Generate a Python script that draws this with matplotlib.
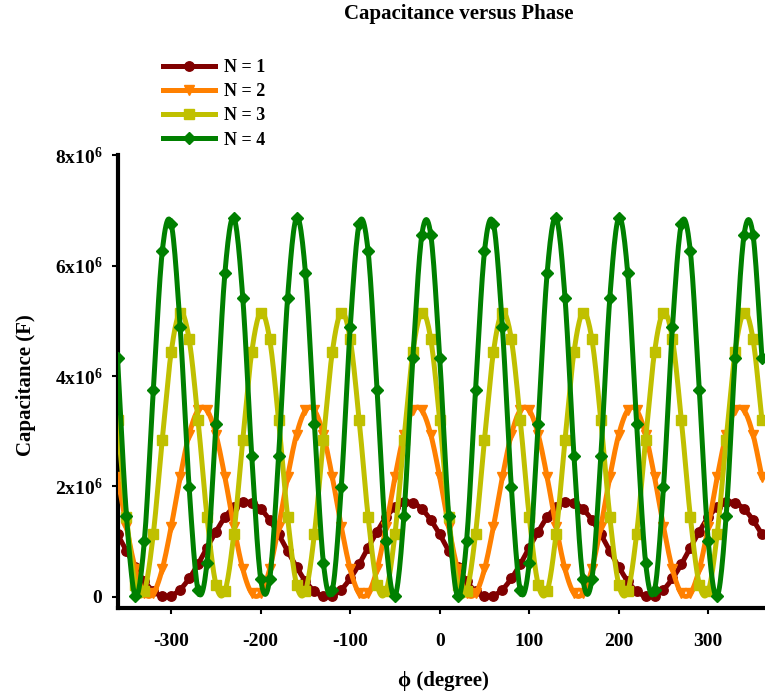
import numpy as np
import matplotlib
matplotlib.use("Agg")
import matplotlib.pyplot as plt
from matplotlib.lines import Line2D

# Fase (graus) e capacitancia (em unidades de 1e6 F)
fase = np.arange(-360, 361, 10)

cap_n1 = [
    1.13, 0.83, 0.54, 0.28, 0.10, 0.01, 0.02, 0.13, 0.33, 0.59, 0.89, 1.18, 1.44, 1.62, 1.71, 1.70, 1.59, 1.39,
    1.13, 0.83, 0.54, 0.28, 0.10, 0.01, 0.02, 0.13, 0.33, 0.59, 0.89, 1.18, 1.44, 1.62, 1.71, 1.70, 1.59, 1.39,
    1.13, 0.83, 0.54, 0.28, 0.10, 0.01, 0.02, 0.13, 0.33, 0.59, 0.89, 1.18, 1.44, 1.62, 1.71, 1.70, 1.59, 1.39,
    1.13, 0.83, 0.54, 0.28, 0.10, 0.01, 0.02, 0.13, 0.33, 0.59, 0.89, 1.18, 1.44, 1.62, 1.71, 1.70, 1.59, 1.39,
    1.13,
]

cap_n2 = [
    2.17, 1.27, 0.50, 0.06, 0.06, 0.50, 1.27, 2.17, 2.94, 3.38, 3.38, 2.94,
    2.17, 1.27, 0.50, 0.06, 0.06, 0.50, 1.27, 2.17, 2.94, 3.38, 3.38, 2.94,
    2.17, 1.27, 0.50, 0.06, 0.06, 0.50, 1.27, 2.17, 2.94, 3.38, 3.38, 2.94,
    2.17, 1.27, 0.50, 0.06, 0.06, 0.50, 1.27, 2.17, 2.94, 3.38, 3.38, 2.94,
    2.17, 1.27, 0.50, 0.06, 0.06, 0.50, 1.27, 2.17, 2.94, 3.38, 3.38, 2.94,
    2.17, 1.27, 0.50, 0.06, 0.06, 0.50, 1.27, 2.17, 2.94, 3.38, 3.38, 2.94,
    2.17,
]

cap_n3 = [
    3.20, 1.45, 0.22, 0.10, 1.14, 2.85, 4.44, 5.15, 4.67,
    3.20, 1.45, 0.22, 0.10, 1.14, 2.85, 4.44, 5.15, 4.67,
    3.20, 1.45, 0.22, 0.10, 1.14, 2.85, 4.44, 5.15, 4.67,
    3.20, 1.45, 0.22, 0.10, 1.14, 2.85, 4.44, 5.15, 4.67,
    3.20, 1.45, 0.22, 0.10, 1.14, 2.85, 4.44, 5.15, 4.67,
    3.20, 1.45, 0.22, 0.10, 1.14, 2.85, 4.44, 5.15, 4.67,
    3.20, 1.45, 0.22, 0.10, 1.14, 2.85, 4.44, 5.15, 4.67,
    3.20, 1.45, 0.22, 0.10, 1.14, 2.85, 4.44, 5.15, 4.67,
    3.20,
]

cap_n4 = [
    4.33, 1.47, 0.01, 1.01, 3.74, 6.26, 6.76, 4.89, 1.99, 0.12, 0.62, 3.14,
    5.87, 6.87, 5.41, 2.55, 0.32, 0.32, 2.55, 5.41, 6.87, 5.87, 3.14, 0.62,
    0.12, 1.99, 4.89, 6.76, 6.26, 3.74, 1.01, 0.01, 1.47, 4.33, 6.56, 6.56,
    4.33, 1.47, 0.01, 1.01, 3.74, 6.26, 6.76, 4.89, 1.99, 0.12, 0.62, 3.14,
    5.87, 6.87, 5.41, 2.55, 0.32, 0.32, 2.55, 5.41, 6.87, 5.87, 3.14, 0.62,
    0.12, 1.99, 4.89, 6.76, 6.26, 3.74, 1.01, 0.01, 1.47, 4.33, 6.56, 6.56,
    4.33,
]

rotulos = ["N = 1", "N = 2", "N = 3", "N = 4"]
series = [cap_n1, cap_n2, cap_n3, cap_n4]

xticks = [-300, -200, -100, 0, 100, 200, 300]
yticks = [0, 2, 4, 6, 8]
ytick_labels = ["0", "2x10$^{6}$", "4x10$^{6}$", "6x10$^{6}$", "8x10$^{6}$"]

cores = ["#800000", "#ff8000", "#c0c000", "#008000"]
marcadores = ["o", "v", "s", "D"]
tamanhos = [6.8, 7.8, 6.8, 5.8]

plt.rcParams["font.family"] = ["Liberation Serif", "DejaVu Serif"]
plt.rcParams["font.weight"] = "bold"
plt.rcParams["mathtext.fontset"] = "custom"
plt.rcParams["mathtext.rm"] = "Liberation Serif:bold"
plt.rcParams["mathtext.it"] = "Liberation Serif:bold"
plt.rcParams["mathtext.bf"] = "Liberation Serif:bold"


def suavizar(x, y, passos=12):
    """Curva suave (Catmull-Rom) passando pelos pontos, como o Excel."""
    x = np.asarray(x, float)
    y = np.asarray(y, float)
    px = np.concatenate([[2 * x[0] - x[1]], x, [2 * x[-1] - x[-2]]])
    py = np.concatenate([[2 * y[0] - y[1]], y, [2 * y[-1] - y[-2]]])
    t = np.linspace(0, 1, passos, endpoint=False)
    xs, ys = [], []
    for i in range(len(x) - 1):
        for p, out in ((px, xs), (py, ys)):
            p0, p1, p2, p3 = p[i], p[i + 1], p[i + 2], p[i + 3]
            out.append(0.5 * (2 * p1 + (-p0 + p2) * t
                              + (2 * p0 - 5 * p1 + 4 * p2 - p3) * t ** 2
                              + (-p0 + 3 * p1 - 3 * p2 + p3) * t ** 3))
    xs.append([x[-1]])
    ys.append([y[-1]])
    return np.concatenate(xs), np.concatenate(ys)


W, H = 765, 693
fig = plt.figure(figsize=(W / 100, H / 100), dpi=100)
ax = fig.add_axes([117.5 / W, 1 - 608 / H, (W - 117.5) / W, (608 - 155.5) / H])

handles = []
for i, (vals, cor, m, ms) in enumerate(zip(series, cores, marcadores, tamanhos)):
    xs, ys = suavizar(fase, vals)
    ax.plot(xs, ys, color=cor, lw=3.6, solid_joinstyle="round", zorder=2 + i)
    ax.plot(fase, vals, ls="none", marker=m, ms=ms, color=cor, mec=cor, zorder=2 + i)
    handles.append(Line2D([], [], color=cor, lw=3.6, marker=m, ms=ms, mec=cor))

ax.set_xlim(-360, 363.4)
ax.set_ylim(-0.205, 8)
ax.set_xticks(xticks)
ax.set_xticklabels([str(v) for v in xticks])
ax.set_yticks(yticks)
ax.set_yticklabels(ytick_labels)

for lado in ("top", "right"):
    ax.spines[lado].set_visible(False)
for lado in ("left", "bottom"):
    ax.spines[lado].set_linewidth(3)
ax.tick_params(axis="both", direction="out", length=4, width=1.5, labelsize=14)
ax.tick_params(axis="x", pad=14)
ax.tick_params(axis="y", pad=7)

fig.text(459 / W, 1 - 14 / H, "Capacitance versus Phase", ha="center", va="center",
         fontsize=15, fontweight="bold")
fig.text(443 / W, 1 - 681 / H, "\u03d5 (degree)", ha="center", va="center",
         fontsize=15, fontweight="bold")
fig.text(26 / W, 1 - 385 / H, "Capacitance (F)", ha="center", va="center",
         rotation=90, fontsize=15, fontweight="bold")

fig.legend(handles, rotulos, loc="upper left", bbox_to_anchor=(163 / W, 1 - 59 / H),
           frameon=False, fontsize=13, handlelength=2.9, handletextpad=0.5,
           labelspacing=0.4, borderpad=0, borderaxespad=0)

fig.savefig("out.png", dpi=100)
